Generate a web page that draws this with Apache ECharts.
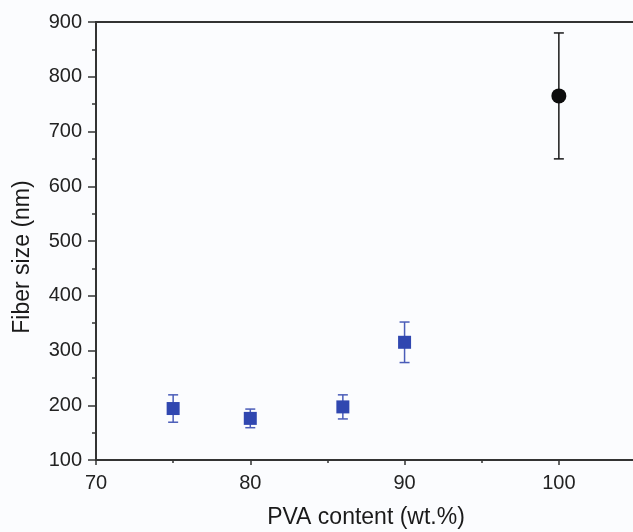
<!DOCTYPE html>
<html>
<head>
<meta charset="utf-8">
<script src="https://cdn.jsdelivr.net/npm/echarts@6/dist/echarts.min.js"></script>
<style>
  html, body { margin: 0; padding: 0; background: #fbfcfe; }
  #chart { width: 633px; height: 532px; }
</style>
</head>
<body>
<div id="chart"></div>
<script>
// blend samples (blue squares)
var blendX = [75, 80, 86, 90];
var blendY = [194, 176, 197, 315];
var blendErr = [25, 17, 22, 37];
// pure PVA (black circle)
var pvaX = [100];
var pvaY = [765];
var pvaErr = [115];

var chartDom = document.getElementById('chart');
var myChart = echarts.init(chartDom);

function errorBars(xs, ys, errs) {
    return xs.map(function (x, i) {
        return [x, ys[i] - errs[i], ys[i] + errs[i]];
    });
}

function renderBar(color) {
    return function (params, api) {
        var lo = api.coord([api.value(0), api.value(1)]);
        var hi = api.coord([api.value(0), api.value(2)]);
        var w = 5;
        var style = { stroke: color, lineWidth: 1.5 };
        return {
            type: 'group',
            children: [
                { type: 'line', shape: { x1: lo[0], y1: lo[1], x2: hi[0], y2: hi[1] }, style: style },
                { type: 'line', shape: { x1: lo[0] - w, y1: lo[1], x2: lo[0] + w, y2: lo[1] }, style: style },
                { type: 'line', shape: { x1: hi[0] - w, y1: hi[1], x2: hi[0] + w, y2: hi[1] }, style: style }
            ]
        };
    };
}

var option = {
    backgroundColor: '#fbfcfe',
    animation: false,
    grid: {
        left: 96,
        top: 22,
        width: 540,
        bottom: 72,
        outerBoundsMode: 'none',
        show: true,
        borderColor: '#333',
        borderWidth: 2
    },
    xAxis: {
        type: 'value',
        min: 70,
        max: 105,
        interval: 10,
        name: 'PVA content (wt.%)',
        nameLocation: 'middle',
        nameGap: 46,
        nameTextStyle: { fontFamily: 'Liberation Sans', fontSize: 23, color: '#1a1a1a' },
        axisLine: { lineStyle: { color: '#333', width: 2 } },
        axisTick: { inside: false, length: 5, lineStyle: { color: '#333', width: 1.5 } },
        minorTick: { show: true, splitNumber: 2, length: 3, lineStyle: { color: '#333', width: 1.5 } },
        axisLabel: { showMaxLabel: false, margin: 13, fontFamily: 'Liberation Sans', fontSize: 20, color: '#222' },
        splitLine: { show: false }
    },
    yAxis: {
        type: 'value',
        min: 100,
        max: 900,
        interval: 100,
        name: 'Fiber size (nm)',
        nameLocation: 'middle',
        nameGap: 62,
        nameTextStyle: { fontFamily: 'Liberation Sans', fontSize: 23, color: '#1a1a1a', padding: [0, 32, 0, 0] },
        axisLine: { lineStyle: { color: '#333', width: 2 } },
        axisTick: { inside: false, length: 8, lineStyle: { color: '#333', width: 1.5 } },
        minorTick: { show: true, splitNumber: 2, length: 4, lineStyle: { color: '#333', width: 1.5 } },
        axisLabel: { margin: 14, fontFamily: 'Liberation Sans', fontSize: 20, color: '#222' },
        splitLine: { show: false }
    },
    series: [
        {
            type: 'custom',
            renderItem: renderBar('#4a5cb8'),
            data: errorBars(blendX, blendY, blendErr),
            encode: { x: 0, y: [1, 2] },
            z: 1
        },
        {
            type: 'custom',
            renderItem: renderBar('#1a1a1a'),
            data: errorBars(pvaX, pvaY, pvaErr),
            encode: { x: 0, y: [1, 2] },
            z: 1
        },
        {
            type: 'scatter',
            symbol: 'rect',
            symbolSize: 13,
            itemStyle: { color: '#3047b0', opacity: 1 },
            data: blendX.map(function (x, i) { return [x, blendY[i]]; }),
            z: 3
        },
        {
            type: 'scatter',
            symbol: 'circle',
            symbolSize: 15,
            itemStyle: { color: '#0d0d0d', opacity: 1 },
            data: pvaX.map(function (x, i) { return [x, pvaY[i]]; }),
            z: 3
        }
    ]
};

option && myChart.setOption(option);
</script>
</body>
</html>
